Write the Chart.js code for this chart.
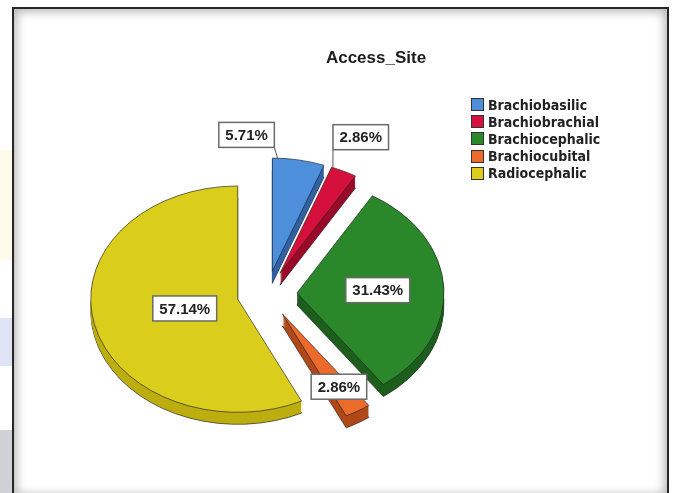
<!DOCTYPE html>
<html>
<head>
<meta charset="utf-8">
<title>Access_Site</title>
<script src="https://cdn.jsdelivr.net/npm/chart.js@4.4.1/dist/chart.umd.min.js"></script>
<style>
  html, body { margin: 0; padding: 0; background: #fff; }
  body { width: 674px; height: 493px; position: relative; overflow: hidden; font-family: "Liberation Sans", Arial, sans-serif; }
  .edge { position: absolute; left: 0; width: 12px; }
  .frame {
    position: absolute; left: 12px; top: 7px; width: 657px; height: 492px;
    box-sizing: border-box; border: 2px solid #262626;
    box-shadow: inset 0 0 10px 3px rgba(0, 0, 0, 0.28);
  }
  #pie { position: absolute; left: 0; top: 0; }
  .title {
    position: absolute; left: 276px; top: 48px; width: 200px;
    text-align: center; font-weight: bold; font-size: 17px; color: #1c1c1c;
  }
  #legend { position: absolute; left: 471px; top: 96px; }
  .item { height: 17.2px; display: flex; align-items: center; }
  .swatch { width: 11px; height: 11px; border: 1px solid #333; margin-right: 4px; flex: none; }
  .item span {
    font-family: "DejaVu Sans Condensed", "Liberation Sans Narrow", sans-serif;
    font-weight: bold; font-size: 14px; color: #222; white-space: nowrap;
  }
</style>
</head>
<body>
<div class="edge" style="top:150px;height:110px;background:#fffbea"></div>
<div class="edge" style="top:318px;height:48px;background:#dfe4f4"></div>
<div class="edge" style="top:430px;height:63px;background:#cfd0d8"></div>
<div class="frame"></div>
<canvas id="pie" width="674" height="493"></canvas>
<div class="title">Access_Site</div>
<div id="legend"></div>

<script>
// Access site, share of patients (n = 35)
const sites = ['Brachiobasilic', 'Brachiobrachial', 'Brachiocephalic', 'Brachiocubital', 'Radiocephalic'];
const percents = [5.71, 2.86, 31.43, 2.86, 57.14];

const topColors = ['#4d8fdb', '#d6103c', '#2a882a', '#eb6a2c', '#dacd1c'];
const sideColors = ['#2f62a6', '#9a0a28', '#1c5e1c', '#b04818', '#bdae10'];

// where each percentage box goes: fraction of the radius along the slice middle,
// plus a nudge and a leader line for the thin slices
const labelSpots = [
  { at: 1, dx: -52, dy: -25, lead: 0.1 },
  { at: 1, dx: 17, dy: -34, lead: 0.05 },
  { at: 0.55 },
  { at: 0.75 },
  { at: 0.37 }
];

const TILT = 0.77;     // vertical squash of the pie plane
const DEPTH = 12;      // thickness of the slices in px
const EXPLODE = 30;    // how far every slice is pulled out

// point on a slice (with its explode offset) in screen space
function slicePoint(arc, angle, rho) {
  const mid = (arc.startAngle + arc.endAngle) / 2;
  return {
    x: arc.x + Math.cos(mid) * EXPLODE + Math.cos(angle) * rho,
    y: arc.y + (Math.sin(mid) * EXPLODE + Math.sin(angle) * rho) * TILT
  };
}

const pie3d = {
  id: 'pie3d',
  beforeDatasetDraw(chart, args) {
    const ctx = chart.ctx;
    const arcs = args.meta.data;
    const cy = arcs[0].y;

    ctx.save();
    ctx.translate(0, cy);
    ctx.scale(1, TILT);
    ctx.translate(0, -cy);

    // side walls: darker copies stacked downwards
    arcs.forEach((arc, i) => {
      const mid = (arc.startAngle + arc.endAngle) / 2;
      const saved = arc.options;
      for (let k = DEPTH; k > 0; k--) {
        arc.options = Object.assign({}, saved, {
          backgroundColor: sideColors[i],
          borderColor: 'rgba(35,35,35,0.8)',
          borderWidth: k === DEPTH ? 1 : 0
        });
        ctx.save();
        ctx.translate(Math.cos(mid) * EXPLODE, Math.sin(mid) * EXPLODE + k / TILT);
        arc.draw(ctx);
        ctx.restore();
      }
      arc.options = saved;
    });

    // top faces
    arcs.forEach(arc => {
      const mid = (arc.startAngle + arc.endAngle) / 2;
      ctx.save();
      ctx.translate(Math.cos(mid) * EXPLODE, Math.sin(mid) * EXPLODE);
      arc.draw(ctx);
      ctx.restore();
    });

    ctx.restore();
    return false;
  },

  afterDatasetsDraw(chart) {
    const ctx = chart.ctx;
    const arcs = chart.getDatasetMeta(0).data;
    ctx.save();
    ctx.font = 'bold 15px "Liberation Sans", Arial, sans-serif';
    ctx.textAlign = 'center';
    ctx.textBaseline = 'middle';

    arcs.forEach((arc, i) => {
      const spot = labelSpots[i];
      const mid = (arc.startAngle + arc.endAngle) / 2;
      const p = slicePoint(arc, mid, arc.outerRadius * spot.at);
      const x = p.x + (spot.dx || 0);
      const y = p.y + (spot.dy || 0);
      const text = percents[i].toFixed(2) + '%';
      const w = ctx.measureText(text).width + 13;
      const h = 25;
      const left = x - w / 2, top = y - h / 2;

      if (spot.lead != null) {
        const a = arc.startAngle + (arc.endAngle - arc.startAngle) * spot.lead;
        const t = slicePoint(arc, a, arc.outerRadius);
        const sx = Math.min(Math.max(t.x, left), left + w);
        const sy = Math.min(Math.max(t.y, top), top + h);
        ctx.strokeStyle = '#555';
        ctx.lineWidth = 1;
        ctx.beginPath();
        ctx.moveTo(sx, sy);
        ctx.lineTo(t.x, t.y);
        ctx.stroke();
      }

      ctx.fillStyle = '#fff';
      ctx.fillRect(left, top, w, h);
      ctx.strokeStyle = '#6a6a6a';
      ctx.lineWidth = 1.5;
      ctx.strokeRect(left, top, w, h);
      ctx.fillStyle = '#222';
      ctx.fillText(text, x, y + 1);
    });
    ctx.restore();
  }
};

const chart = new Chart(document.getElementById('pie'), {
  type: 'pie',
  data: {
    labels: sites,
    datasets: [{
      data: percents,
      backgroundColor: topColors,
      borderColor: 'rgba(35,35,35,0.75)',
      borderWidth: 1
    }]
  },
  options: {
    responsive: false,
    animation: false,
    events: [],
    radius: 147,
    layout: { padding: { left: 10, right: 150, top: 100, bottom: 5 } },
    plugins: {
      legend: { display: false },
      tooltip: { enabled: false }
    }
  },
  plugins: [pie3d]
});

// legend built from the chart's own labels and colours
const legend = document.getElementById('legend');
chart.data.labels.forEach((label, i) => {
  const item = document.createElement('div');
  item.className = 'item';
  item.innerHTML = `<div class="swatch" style="background:${chart.data.datasets[0].backgroundColor[i]}"></div><span>${label}</span>`;
  legend.appendChild(item);
});
</script>
</body>
</html>
